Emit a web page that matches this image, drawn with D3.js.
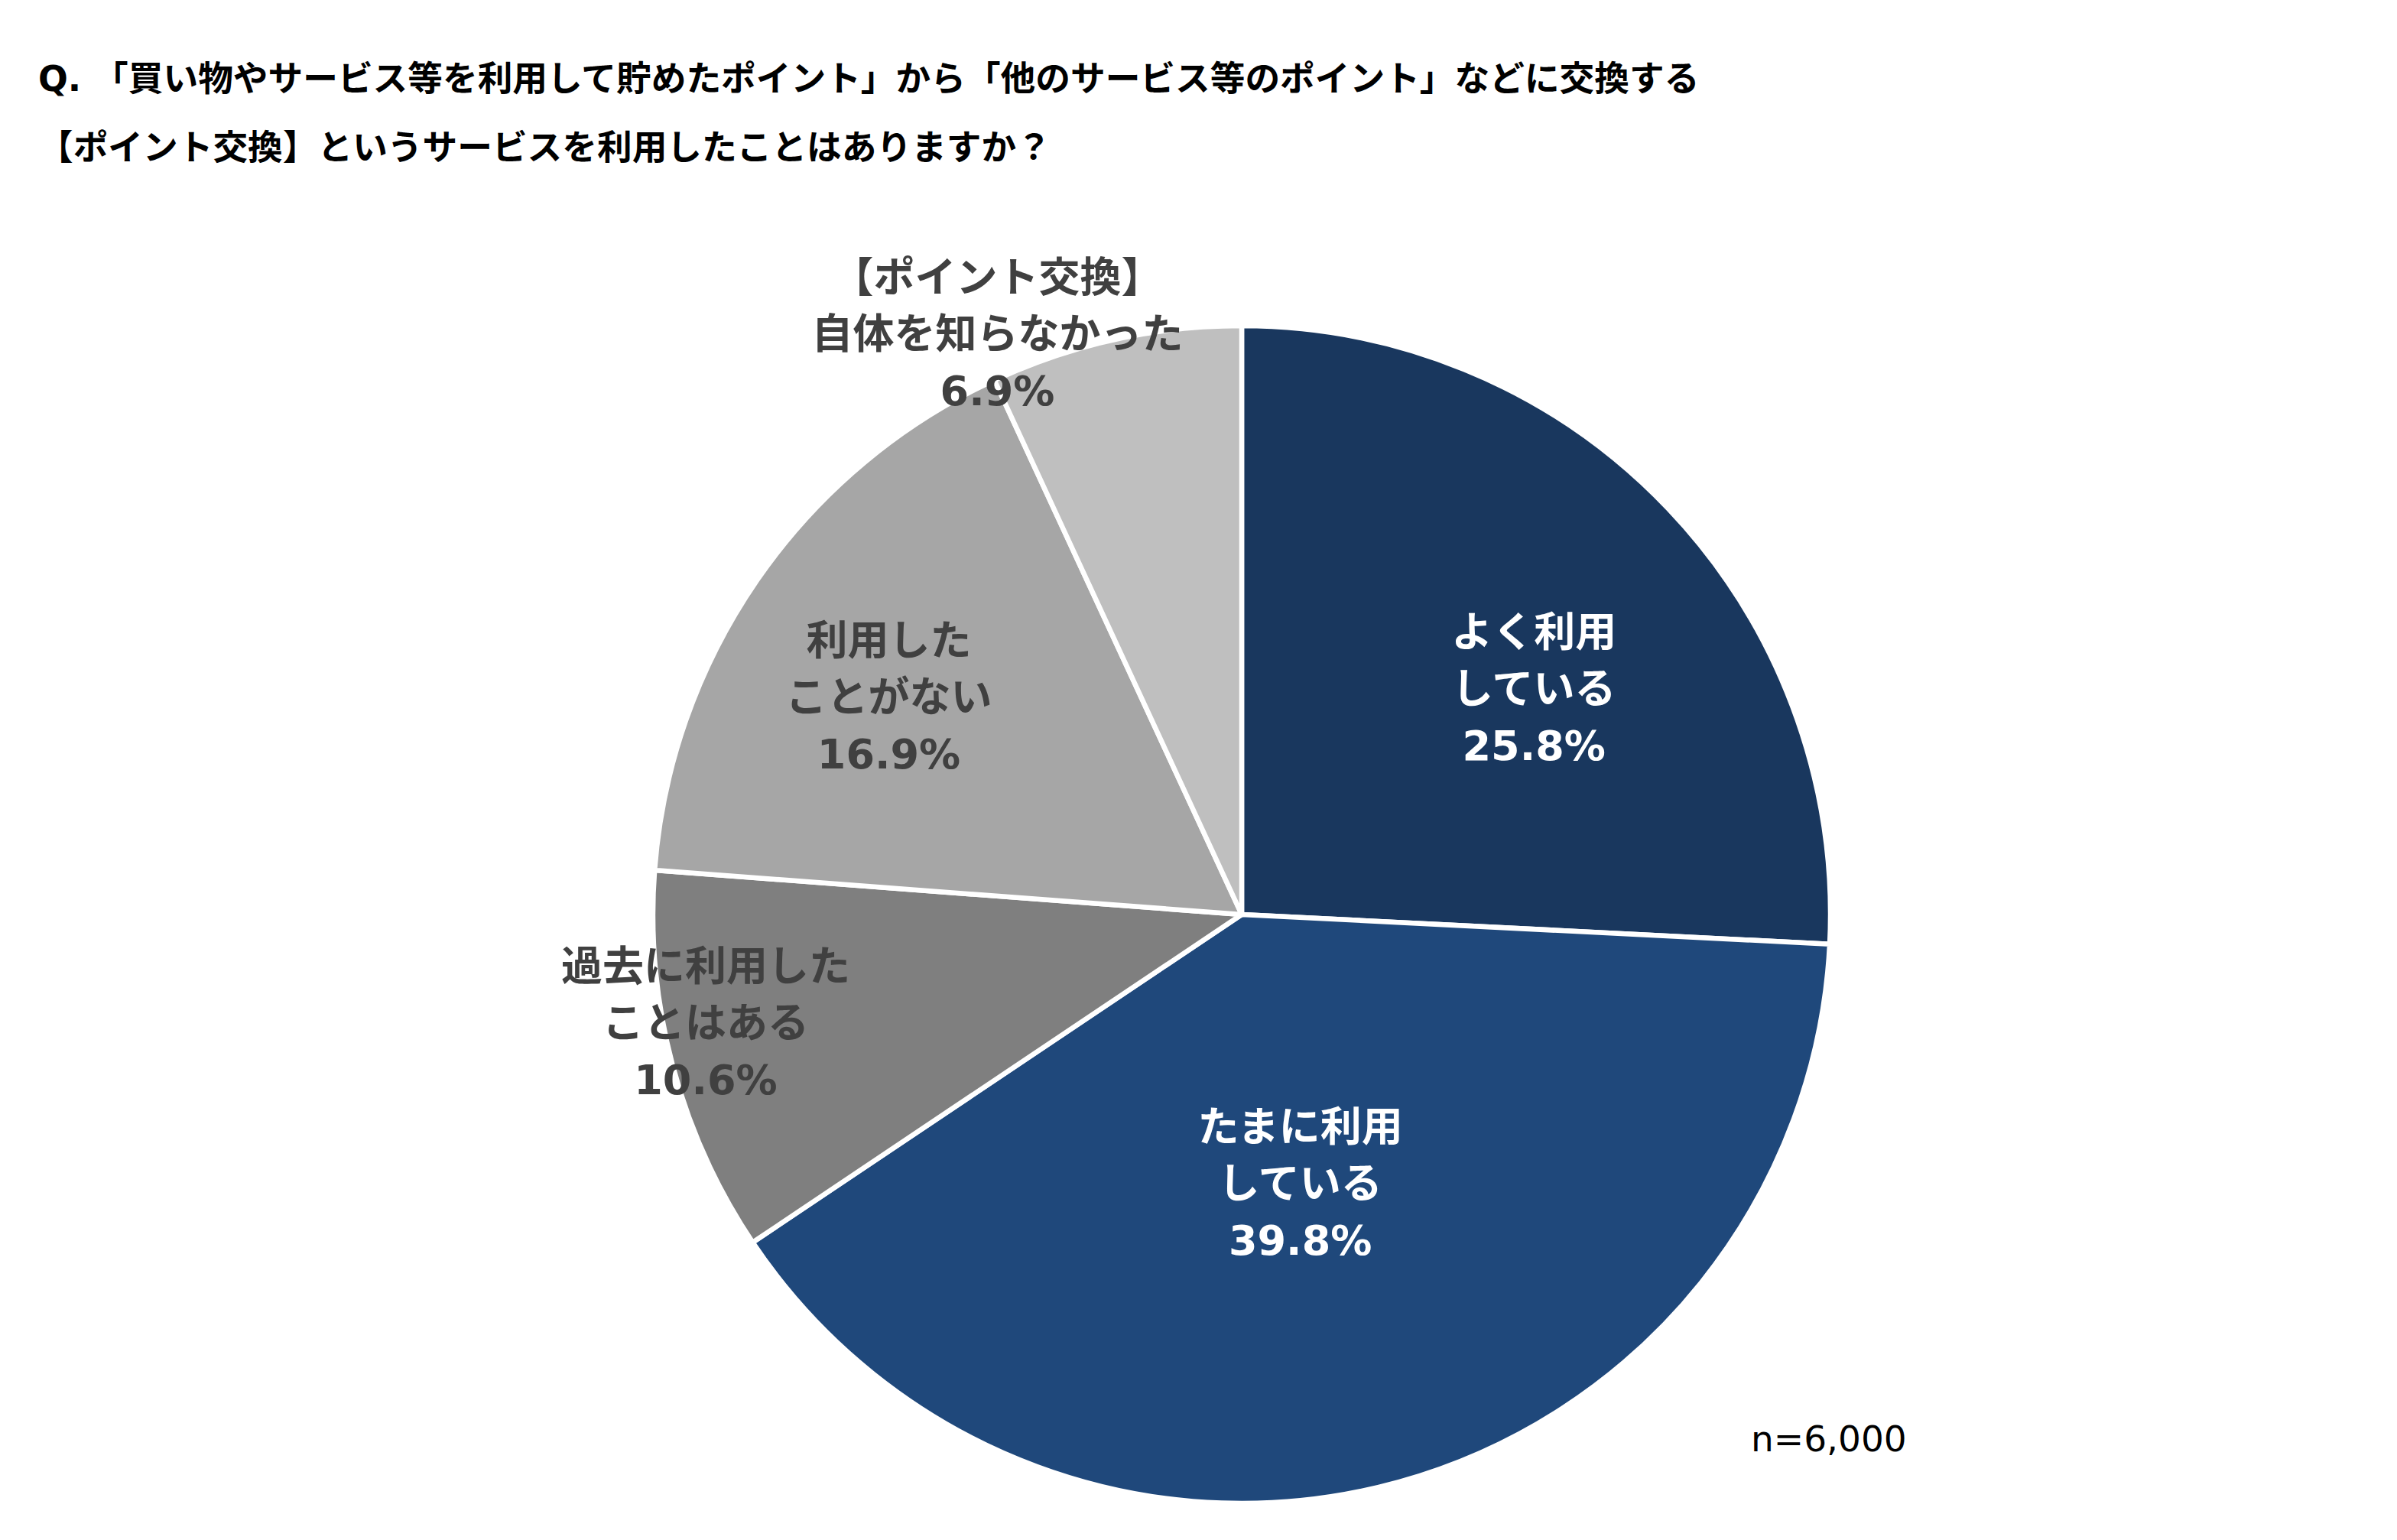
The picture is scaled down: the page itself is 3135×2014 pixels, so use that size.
<!DOCTYPE html>
<html>
<head>
<meta charset="utf-8">
<script src="https://cdn.jsdelivr.net/npm/d3@7"></script>
<style>
  html, body { margin: 0; padding: 0; background: #ffffff; }
  svg { display: block; }
</style>
</head>
<body>
<script>
// ---- data ----
const categories = [
  ["よく利用", "している"],
  ["たまに利用", "している"],
  ["過去に利用した", "ことはある"],
  ["利用した", "ことがない"],
  ["【ポイント交換】", "自体を知らなかった"]
];
const values = [25.8, 39.8, 10.6, 16.9, 6.9];
const titleLines = [
  "Q. 「買い物やサービス等を利用して貯めたポイント」から「他のサービス等のポイント」などに交換する",
  "【ポイント交換】というサービスを利用したことはありますか？"
];
const noteText = "n=6,000";

// ---- styles / layout ----
const W = 3135, H = 2014;
const colors = ["#19375E", "#1F487B", "#7F7F7F", "#A6A6A6", "#BFBFBF"];
const labelColors = ["#ffffff", "#ffffff", "#404040", "#404040", "#404040"];
// label placement: radius fraction and angle offset (degrees) from slice mid-angle
const labelRadius = [0.627, 0.468, 0.929, 0.704, 1.070];
const labelAngleOffset = [5.9, 3.2, 3.3, -3.1, -10.4];
const fontStack = "'DejaVu Sans', 'Noto Sans CJK JP', sans-serif";

const cx = 1624, cy = 1196, R = 770;

const svg = d3.select("body").append("svg")
  .attr("width", W).attr("height", H);

// title
svg.append("g").selectAll("text")
  .data(titleLines)
  .join("text")
  .attr("x", 50)
  .attr("y", (d, i) => 119 + i * 90)
  .attr("font-family", fontStack)
  .attr("font-weight", "bold")
  .attr("font-size", 45.7)
  .attr("fill", "#000000")
  .text(d => d);

const pie = d3.pie().sort(null).value(d => d);
const arcs = pie(values);
const arc = d3.arc().innerRadius(0).outerRadius(R);

const g = svg.append("g").attr("transform", `translate(${cx},${cy})`);

g.selectAll("path")
  .data(arcs)
  .join("path")
  .attr("d", arc)
  .attr("fill", (d, i) => colors[i])
  .attr("stroke", "#ffffff")
  .attr("stroke-width", 6.5)
  .attr("stroke-linejoin", "round");

// labels
const lineH = 74;
const labels = g.selectAll("g.lbl")
  .data(arcs)
  .join("g")
  .attr("class", "lbl")
  .attr("transform", (d, i) => {
    const a = (d.startAngle + d.endAngle) / 2 + labelAngleOffset[i] * Math.PI / 180;
    const r = R * labelRadius[i];
    return `translate(${r * Math.sin(a)},${-r * Math.cos(a)})`;
  });

labels.each(function(d, i) {
  const lines = [categories[i][0], categories[i][1], values[i].toFixed(1) + "%"];
  d3.select(this).selectAll("text")
    .data(lines)
    .join("text")
    .attr("x", 0)
    .attr("y", (t, j) => (j - 1) * lineH + 19)
    .attr("text-anchor", "middle")
    .attr("font-family", fontStack)
    .attr("font-weight", "bold")
    .attr("font-size", 54)
    .attr("fill", labelColors[i])
    .text(t => t);
});

// note
svg.append("text")
  .attr("x", 2290)
  .attr("y", 1898)
  .attr("font-family", fontStack)
  .attr("font-size", 47)
  .attr("fill", "#000000")
  .text(noteText);
</script>
</body>
</html>
